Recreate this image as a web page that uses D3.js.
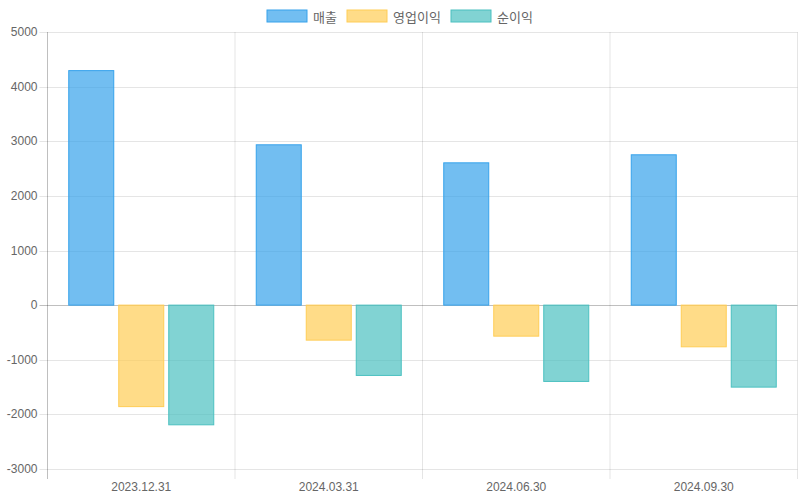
<!DOCTYPE html>
<html>
<head>
<meta charset="utf-8">
<script src="https://cdn.jsdelivr.net/npm/d3@7"></script>
<style>
html,body{margin:0;padding:0;background:#fff;}
text{font-family:"Liberation Sans","Noto Sans CJK KR",Arial,sans-serif;}
text.kr{font-family:"Noto Sans CJK KR",sans-serif;}
</style>
</head>
<body>
<svg id="chart" width="800" height="500"></svg>
<script>
const categories = ["2023.12.31", "2024.03.31", "2024.06.30", "2024.09.30"];
const seriesNames = ["매출", "영업이익", "순이익"];
const sales = [4293, 2935, 2605, 2752];
const opProfit = [-1858, -641, -568, -763];
const netProfit = [-2191, -1287, -1397, -1501];
const yTicks = [5000, 4000, 3000, 2000, 1000, 0, -1000, -2000, -3000];

(function () {
const seriesValues = [sales, opProfit, netProfit];
const fills = ["rgba(54,162,235,0.7)", "rgba(255,205,86,0.7)", "rgba(75,192,192,0.7)"];
const strokes = ["rgb(54,162,235)", "rgb(255,205,86)", "rgb(75,192,192)"];

const svg = d3.select("#chart");
const pl = 47.5, pr = 797.5, pt = 32, pb = 469;

const x = d3.scaleBand().domain(categories).range([pl, pr]).paddingInner(0).paddingOuter(0);
const y = d3.scaleLinear().domain([-3000, 5000]).range([pb, pt]);
const inner = d3.scaleBand().domain(seriesNames).range([0, x.bandwidth() * 0.8]);

// horizontal gridlines
svg.append("g").selectAll("line").data(yTicks).join("line")
  .attr("x1", pl - 8).attr("x2", pr)
  .attr("y1", d => Math.round(y(d)) + 0.5).attr("y2", d => Math.round(y(d)) + 0.5)
  .attr("stroke", d => d === 0 ? "rgba(0,0,0,0.25)" : "rgba(0,0,0,0.1)")
  .attr("stroke-width", 1);

// vertical gridlines
const vx = categories.map(c => x(c)).concat([pr]);
svg.append("g").selectAll("line").data(vx).join("line")
  .attr("x1", d => d).attr("x2", d => d)
  .attr("y1", pt).attr("y2", pb + 10)
  .attr("stroke", (d, i) => i === 0 ? "rgba(0,0,0,0.25)" : "rgba(0,0,0,0.1)")
  .attr("stroke-width", 1);

// y labels
svg.append("g").selectAll("text").data(yTicks).join("text")
  .attr("x", pl - 10).attr("y", d => y(d))
  .attr("text-anchor", "end").attr("dominant-baseline", "central")
  .attr("font-size", 12).attr("fill", "#666")
  .text(d => d);

// x labels
svg.append("g").selectAll("text").data(categories).join("text")
  .attr("x", d => x(d) + x.bandwidth() / 2).attr("y", 487)
  .attr("text-anchor", "middle").attr("dominant-baseline", "central")
  .attr("font-size", 12).attr("fill", "#666")
  .text(d => d);

// bars
seriesNames.forEach((s, si) => {
  const bw = inner.bandwidth() * 0.9;
  svg.append("g").selectAll("rect").data(seriesValues[si]).join("rect")
    .attr("x", (d, i) => x(categories[i]) + x.bandwidth() * 0.1 + inner(s) + (inner.bandwidth() - bw) / 2)
    .attr("width", bw)
    .attr("y", d => Math.min(y(d), y(0)))
    .attr("height", d => Math.abs(y(d) - y(0)))
    .attr("fill", fills[si])
    .attr("stroke", strokes[si])
    .attr("stroke-width", 1);
});

// legend
const legend = svg.append("g");
let lx = 267;
seriesNames.forEach((s, si) => {
  legend.append("rect").attr("x", lx).attr("y", 10).attr("width", 40).attr("height", 12)
    .attr("fill", fills[si]).attr("stroke", strokes[si]).attr("stroke-width", 1);
  legend.append("text").attr("class", "kr").attr("x", lx + 46).attr("y", 16)
    .attr("dominant-baseline", "central").attr("font-size", 13).attr("fill", "#666").text(s);
  lx += 46 + s.length * 12 + 10;
});
})();
</script>
</body>
</html>
